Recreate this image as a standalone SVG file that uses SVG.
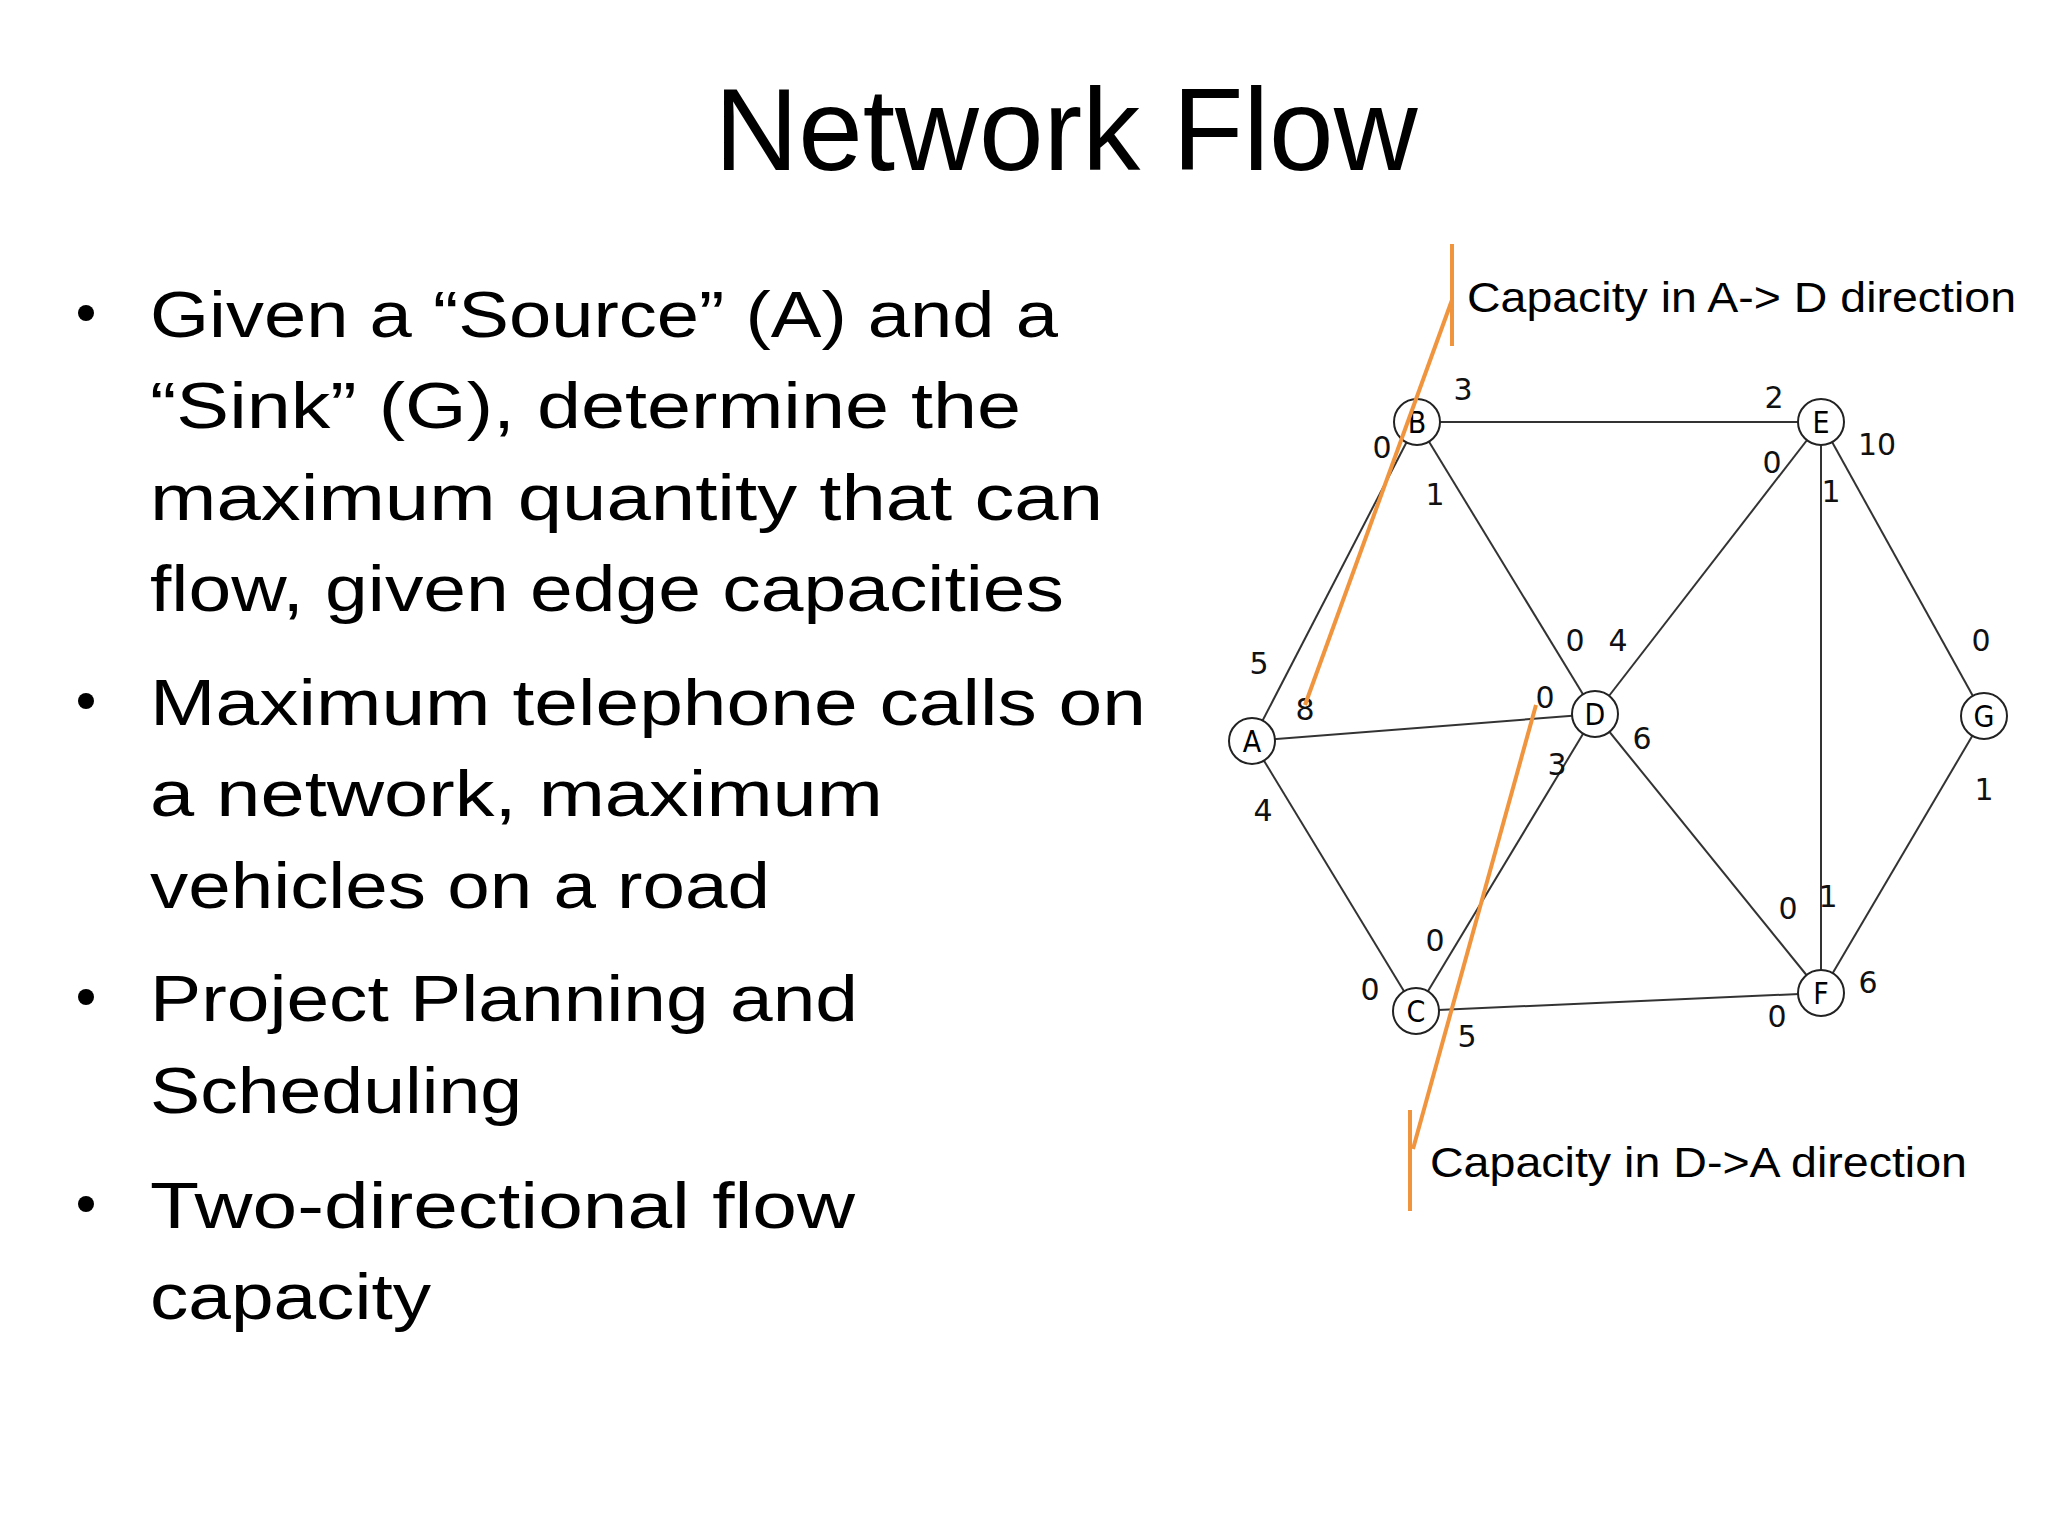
<svg xmlns="http://www.w3.org/2000/svg" width="2048" height="1536" viewBox="0 0 2048 1536">
<style>
.b{font-family:"Liberation Sans",Arial,sans-serif;font-size:64px;fill:#000}
.e{stroke:#333;stroke-width:2;fill:none}
.n circle{fill:#fff;stroke:#222;stroke-width:2}
.n text{font-family:"DejaVu Sans",sans-serif;font-stretch:condensed;font-size:30px;text-anchor:middle;fill:#000}
.l{font-family:"DejaVu Sans",sans-serif;font-size:30px;text-anchor:middle;fill:#111}
.o{stroke:#f0943e;stroke-width:4;fill:none}
.c{font-family:"Liberation Sans",Arial,sans-serif;font-size:42px;fill:#000}
</style>
<rect width="2048" height="1536" fill="#fff"/>
<text x="1066" y="170" text-anchor="middle" font-family="Liberation Sans,Arial,sans-serif" font-size="116" textLength="703" lengthAdjust="spacingAndGlyphs">Network Flow</text>
<g id="bullets">
<circle cx="86" cy="313" r="8"/><circle cx="86" cy="701" r="8"/><circle cx="86" cy="997" r="8"/><circle cx="86" cy="1204" r="8"/>
<text class="b" x="150" y="337" textLength="908" lengthAdjust="spacingAndGlyphs">Given a “Source” (A) and a</text>
<text class="b" x="150" y="428" textLength="871" lengthAdjust="spacingAndGlyphs">“Sink” (G), determine the</text>
<text class="b" x="150" y="520" textLength="953" lengthAdjust="spacingAndGlyphs">maximum quantity that can</text>
<text class="b" x="150" y="611" textLength="914" lengthAdjust="spacingAndGlyphs">flow, given edge capacities</text>
<text class="b" x="150" y="725" textLength="996" lengthAdjust="spacingAndGlyphs">Maximum telephone calls on</text>
<text class="b" x="150" y="816" textLength="733" lengthAdjust="spacingAndGlyphs">a network, maximum</text>
<text class="b" x="150" y="908" textLength="620" lengthAdjust="spacingAndGlyphs">vehicles on a road</text>
<text class="b" x="150" y="1021" textLength="708" lengthAdjust="spacingAndGlyphs">Project Planning and</text>
<text class="b" x="150" y="1113" textLength="372" lengthAdjust="spacingAndGlyphs">Scheduling</text>
<text class="b" x="150" y="1228" textLength="705" lengthAdjust="spacingAndGlyphs">Two-directional flow</text>
<text class="b" x="150" y="1319" textLength="281" lengthAdjust="spacingAndGlyphs">capacity</text>
</g>
<g id="connectors">
<line class="e" x1="1252" y1="741" x2="1417" y2="422"/>
<line class="e" x1="1252" y1="741" x2="1595" y2="714"/>
<line class="e" x1="1252" y1="741" x2="1416" y2="1011"/>
<line class="e" x1="1417" y1="422" x2="1821" y2="422"/>
<line class="e" x1="1417" y1="422" x2="1595" y2="714"/>
<line class="e" x1="1416" y1="1011" x2="1595" y2="714"/>
<line class="e" x1="1416" y1="1011" x2="1821" y2="993"/>
<line class="e" x1="1595" y1="714" x2="1821" y2="422"/>
<line class="e" x1="1595" y1="714" x2="1821" y2="993"/>
<line class="e" x1="1821" y1="422" x2="1821" y2="993"/>
<line class="e" x1="1821" y1="422" x2="1984" y2="716"/>
<line class="e" x1="1821" y1="993" x2="1984" y2="716"/>
</g>
<g id="A" class="n"><circle cx="1252" cy="741" r="23"/><text x="1252" y="752">A</text></g>
<g id="B" class="n"><circle cx="1417" cy="422" r="23"/><text x="1417" y="433">B</text></g>
<g id="C" class="n"><circle cx="1416" cy="1011" r="23"/><text x="1416" y="1022">C</text></g>
<g id="D" class="n"><circle cx="1595" cy="714" r="23"/><text x="1595" y="725">D</text></g>
<g id="E" class="n"><circle cx="1821" cy="422" r="23"/><text x="1821" y="433">E</text></g>
<g id="F" class="n"><circle cx="1821" cy="993" r="23"/><text x="1821" y="1004">F</text></g>
<g id="G" class="n"><circle cx="1984" cy="716" r="23"/><text x="1984" y="727">G</text></g>
<g id="labels" transform="translate(0,11)">
<text class="l" x="1463" y="389">3</text><text class="l" x="1382" y="447">0</text><text class="l" x="1435" y="494">1</text>
<text class="l" x="1774" y="397">2</text><text class="l" x="1877" y="444">10</text><text class="l" x="1772" y="462">0</text><text class="l" x="1831" y="491">1</text>
<text class="l" x="1259" y="663">5</text><text class="l" x="1305" y="709">8</text><text class="l" x="1263" y="810">4</text>
<text class="l" x="1575" y="640">0</text><text class="l" x="1618" y="640">4</text><text class="l" x="1545" y="697">0</text><text class="l" x="1642" y="738">6</text><text class="l" x="1557" y="764">3</text>
<text class="l" x="1981" y="640">0</text><text class="l" x="1984" y="789">1</text>
<text class="l" x="1788" y="908">0</text><text class="l" x="1828" y="896">1</text><text class="l" x="1868" y="982">6</text><text class="l" x="1777" y="1016">0</text>
<text class="l" x="1435" y="940">0</text><text class="l" x="1370" y="989">0</text><text class="l" x="1467" y="1036">5</text>
</g>
<g id="annotations">
<line class="o" x1="1452" y1="244" x2="1452" y2="346"/>
<line class="o" x1="1452" y1="300" x2="1305" y2="705"/>
<line class="o" x1="1410" y1="1110" x2="1410" y2="1211"/>
<line class="o" x1="1536" y1="705" x2="1413" y2="1149"/>
<text class="c" x="1467" y="312" textLength="549" lengthAdjust="spacingAndGlyphs">Capacity in A-&gt; D direction</text>
<text class="c" x="1430" y="1177" textLength="537" lengthAdjust="spacingAndGlyphs">Capacity in D-&gt;A direction</text>
</g>
</svg>
